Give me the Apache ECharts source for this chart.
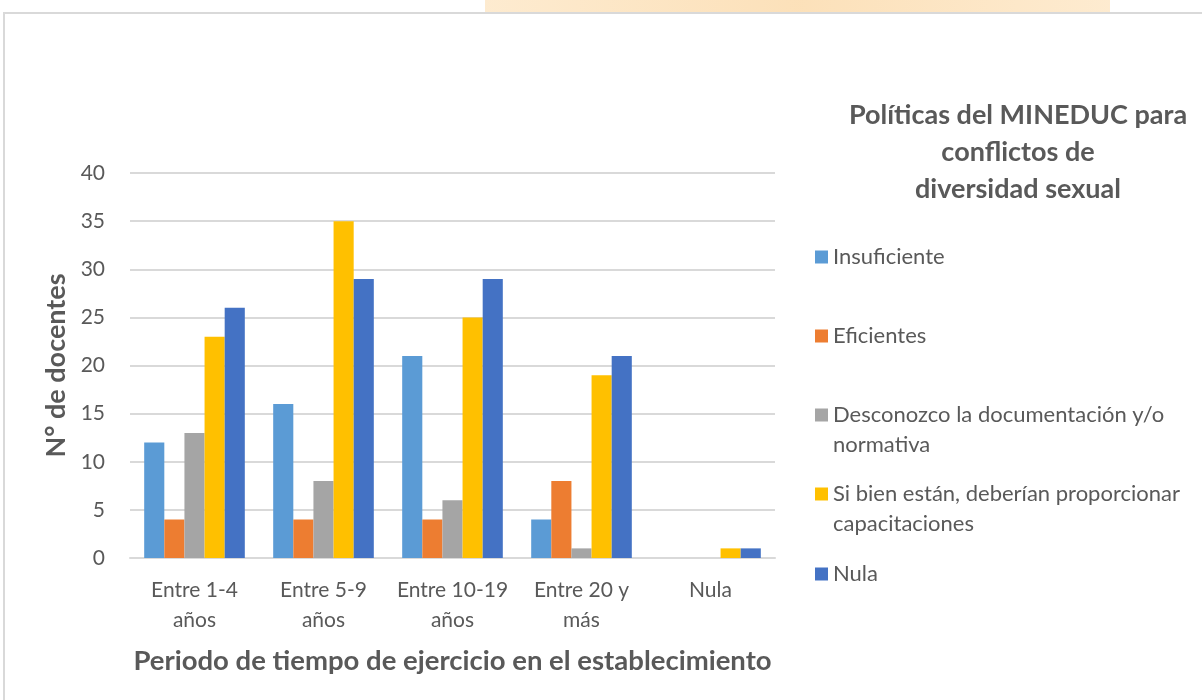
<!DOCTYPE html>
<html>
<head>
<meta charset="utf-8">
<script src="https://cdn.jsdelivr.net/npm/echarts@6/dist/echarts.min.js"></script>
<style>
    html, body { margin: 0; padding: 0; background: #fff; }
    .frame {
        position: absolute;
        left: 3px;
        top: 12px;
        width: 1210px;
        height: 700px;
        border: 2px solid #d9d9d9;
        box-sizing: border-box;
    }
    .mark {
        position: absolute;
        left: 485px;
        top: 0;
        width: 625px;
        height: 12px;
        background: linear-gradient(90deg, #fde6c4, #fbd9a8 50%, #fde6c4);
        opacity: 0.8;
    }
    #chart {
        position: absolute;
        left: 0;
        top: 0;
        width: 1202px;
        height: 700px;
    }
</style>
</head>
<body>
<div class="mark"></div>
<div class="frame"></div>
<div id="chart"></div>
<script>
    // periodos de ejercicio (eje x)
    var categories = ['Entre 1-4\naños', 'Entre 5-9\naños', 'Entre 10-19\naños', 'Entre 20 y\nmás', 'Nula']
    var seriesNames = [
        'Insuficiente',
        'Eficientes',
        'Desconozco la documentación y/o normativa',
        'Si bien están, deberían proporcionar capacitaciones',
        'Nula'
    ]
    var insuficiente = [12, 16, 21, 4, 0]
    var eficientes = [4, 4, 4, 8, 0]
    var desconozco = [13, 8, 6, 1, 0]
    var capacitaciones = [23, 35, 25, 19, 1]
    var nula = [26, 29, 29, 21, 1]
    var yTicks = [0, 5, 10, 15, 20, 25, 30, 35, 40]

    var colors = ['#5b9bd5', '#ed7d31', '#a5a5a5', '#ffc000', '#4472c4']
    var values = [insuficiente, eficientes, desconozco, capacitaciones, nula]
    var textColor = '#595959'
    var fontFamily = 'Lato, "Open Sans", sans-serif'

    // texto de la leyenda (linea vacia arriba para alinear el icono con la primera linea)
    var legendText = {
        'Desconozco la documentación y/o normativa': '\nDesconozco la documentación y/o\nnormativa',
        'Si bien están, deberían proporcionar capacitaciones': '\nSi bien están, deberían proporcionar\ncapacitaciones'
    }
    var legendTops = [242, 321, 370, 449, 559]

    var legends = seriesNames.map(function (name, i) {
        return {
            data: [name],
            left: 815,
            top: legendTops[i],
            padding: 0,
            icon: 'rect',
            itemWidth: 13,
            itemHeight: 13,
            itemGap: 0,
            selectedMode: false,
            formatter: function (n) {
                return legendText[n] || n
            },
            textStyle: {
                color: textColor,
                fontSize: 22,
                fontFamily: fontFamily,
                lineHeight: 30
            }
        }
    })

    var series = seriesNames.map(function (name, i) {
        return {
            name: name,
            type: 'bar',
            data: values[i],
            barGap: 0,
            barCategoryGap: '22%',
            itemStyle: {color: colors[i]}
        }
    })

    var myChart = echarts.init(document.getElementById('chart'))
    var option = {
        animation: false,
        color: colors,
        title: {
            text: 'Políticas del MINEDUC para\nconflictos de\ndiversidad sexual',
            left: 1018,
            top: 97,
            padding: 0,
            textAlign: 'center',
            textStyle: {
                color: textColor,
                fontSize: 27,
                fontWeight: 'bold',
                fontFamily: fontFamily,
                lineHeight: 37
            }
        },
        legend: legends,
        grid: {
            left: 130,
            right: 427,
            top: 173,
            bottom: 142
        },
        xAxis: {
            type: 'category',
            data: categories,
            name: 'Periodo de tiempo de ejercicio en el establecimiento',
            nameLocation: 'middle',
            nameGap: 89,
            nameTextStyle: {
                color: textColor,
                fontSize: 27.5,
                fontWeight: 'bold',
                fontFamily: fontFamily
            },
            axisLine: {lineStyle: {color: '#d9d9d9', width: 2}},
            axisTick: {show: false},
            axisLabel: {
                interval: 0,
                color: textColor,
                fontSize: 21,
                fontFamily: fontFamily,
                lineHeight: 30,
                margin: 17
            }
        },
        yAxis: {
            type: 'value',
            min: yTicks[0],
            max: yTicks[yTicks.length - 1],
            interval: 5,
            name: 'N° de docentes',
            nameLocation: 'middle',
            nameGap: 54,
            nameTextStyle: {
                color: textColor,
                fontSize: 27,
                fontWeight: 'bold',
                fontFamily: fontFamily
            },
            axisLine: {show: false},
            axisTick: {show: false},
            splitLine: {lineStyle: {color: '#d9d9d9', width: 2}},
            axisLabel: {
                color: textColor,
                fontSize: 21,
                fontFamily: fontFamily,
                margin: 25
            }
        },
        series: series
    }
    myChart.setOption(option)
</script>
</body>
</html>
